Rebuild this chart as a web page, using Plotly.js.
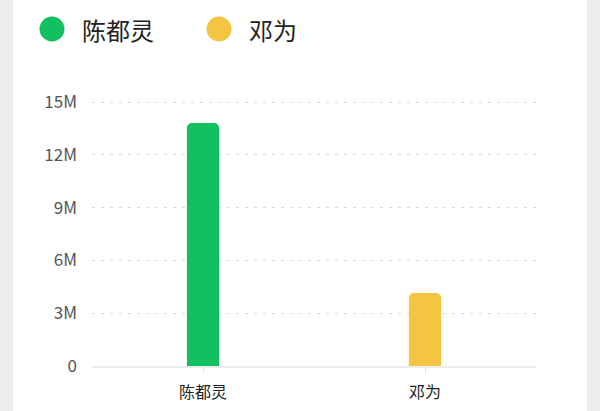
<!DOCTYPE html>
<html>
<head>
<meta charset="utf-8">
<script src="https://cdn.plot.ly/plotly-3.0.1.min.js"></script>
<style>
  html, body { margin: 0; padding: 0; background: #ececec; width: 600px; height: 411px; overflow: hidden; }
  #chart { position: absolute; left: 13px; top: 0; width: 574px; height: 411px; background: #ffffff; }
</style>
</head>
<body>
<div id="chart"></div>
<script>
// ---- data ----
const categories = ["陈都灵", "邓为"];
const values = [13800000, 4150000];
const barColors = ["#12c060", "#f5c542"];
const tickValues = [0, 3000000, 6000000, 9000000, 12000000, 15000000];
const tickLabels = ["0", "3M", "6M", "9M", "12M", "15M"];

// ---- layout constants ----
const W = 574, H = 411;
const M = { l: 79, r: 51, t: 98, b: 45 };
const plotW = W - M.l - M.r, plotH = H - M.t - M.b;
const font = '"Noto Sans CJK SC", "Noto Sans", sans-serif';
const yMax = 15000000 * (H - M.b - M.t) / (H - M.b - 102);

function px2paperX(px) { return (px - M.l) / plotW; }
function px2paperY(py) { return (H - M.b - py) / plotH; }

// legend built from categories/colors
const legendCx = [39, 206];   // circle centers (div px)
const legendCy = 29, legendR = 12.5;
const shapes = [], annotations = [];
categories.forEach((c, i) => {
  shapes.push({
    type: 'circle', xref: 'paper', yref: 'paper',
    x0: px2paperX(legendCx[i] - legendR), x1: px2paperX(legendCx[i] + legendR),
    y0: px2paperY(legendCy + legendR), y1: px2paperY(legendCy - legendR),
    fillcolor: barColors[i], line: { width: 0 }
  });
  annotations.push({
    xref: 'paper', yref: 'paper',
    x: px2paperX(legendCx[i] + 28), y: px2paperY(legendCy),
    xanchor: 'left', yanchor: 'middle', showarrow: false,
    text: c, font: { family: font, size: 24, color: '#222222' }
  });
});

const trace = {
  type: 'bar',
  x: categories,
  y: values,
  width: 0.145,
  marker: { color: barColors, cornerradius: 5, line: { width: 0 } },
  showlegend: false,
  hoverinfo: 'none'
};

const layout = {
  width: W, height: H,
  margin: M,
  paper_bgcolor: '#ffffff',
  plot_bgcolor: '#ffffff',
  showlegend: false,
  font: { family: font },
  xaxis: {
    type: 'category',
    range: [-0.5, 1.5],
    showgrid: false, zeroline: false,
    showline: true, linecolor: '#ebebeb', linewidth: 2,
    ticks: 'outside', ticklen: 5, tickcolor: '#e0e0e0', tickwidth: 1,
    tickfont: { family: font, size: 16, color: '#222222' },
    ticklabelstandoff: 6
  },
  yaxis: {
    range: [0, yMax],
    tickvals: tickValues, ticktext: tickLabels,
    showgrid: true, gridcolor: '#d6d6d6', griddash: '3px,6px', gridwidth: 1,
    zeroline: false, showline: false,
    tickfont: { family: font, size: 17, color: '#555555' },
    ticklabelstandoff: 14
  },
  shapes: shapes,
  annotations: annotations
};

Plotly.newPlot('chart', [trace], layout, { staticPlot: true, displayModeBar: false });
</script>
</body>
</html>
